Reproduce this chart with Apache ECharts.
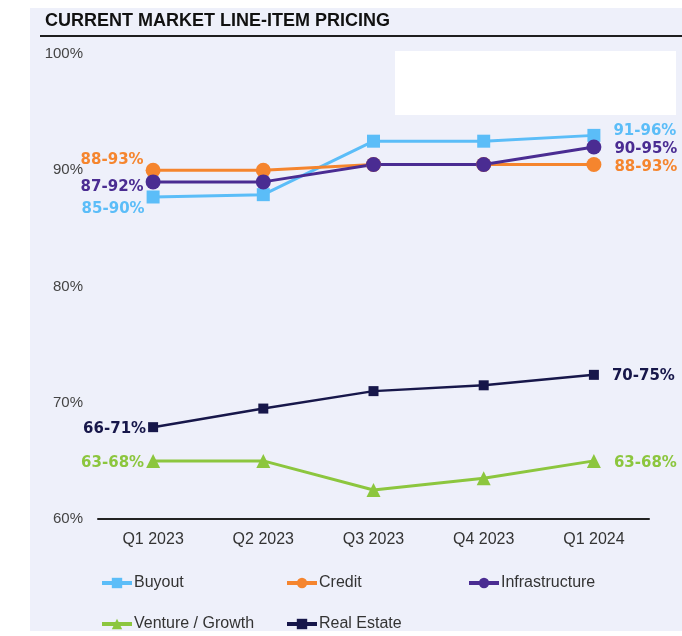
<!DOCTYPE html>
<html>
<head>
<meta charset="utf-8">
<script src="https://cdn.jsdelivr.net/npm/echarts@6/dist/echarts.min.js"></script>
<style>
html,body{margin:0;padding:0;background:#ffffff;}
#chart{width:682px;height:636px;}
</style>
</head>
<body>
<div id="chart"></div>
<script>
const titleText = 'CURRENT MARKET LINE-ITEM PRICING';
const categories = ['Q1 2023', 'Q2 2023', 'Q3 2023', 'Q4 2023', 'Q1 2024'];
const seriesNames = ['Buyout', 'Credit', 'Infrastructure', 'Venture / Growth', 'Real Estate'];
const buyout = [87.7, 87.9, 92.5, 92.5, 93.0];
const credit = [90.0, 90.0, 90.5, 90.5, 90.5];
const infrastructure = [89.0, 89.0, 90.5, 90.5, 92.0];
const ventureGrowth = [65.0, 65.0, 62.5, 63.5, 65.0];
const realEstate = [67.9, 69.5, 71.0, 71.5, 72.4];
const buyoutRanges = ['85-90%', '91-96%'];
const creditRanges = ['88-93%', '88-93%'];
const infrastructureRanges = ['87-92%', '90-95%'];
const ventureRanges = ['63-68%', '63-68%'];
const realEstateRanges = ['66-71%', '70-75%'];
const yTicks = [60, 70, 80, 90, 100];

const colors = {
  buyout: '#5bbdf8',
  credit: '#f5852e',
  infra: '#4a2c92',
  venture: '#8cc63e',
  realEstate: '#17174a'
};
const labelFont = 'DejaVu Sans';

function makeData(values, ranges, color, startDy, endDy) {
  const last = values.length - 1;
  return values.map(function (v, i) {
    if (i === 0) {
      return { value: v, label: { show: true, formatter: ranges[0], position: 'left', distance: 2, offset: [0, startDy], color: color, fontFamily: labelFont, fontWeight: 'bold', fontSize: 15 } };
    }
    if (i === last) {
      return { value: v, label: { show: true, formatter: ranges[1], position: 'right', distance: 13, offset: [0, endDy], color: color, fontFamily: labelFont, fontWeight: 'bold', fontSize: 15 } };
    }
    return { value: v };
  });
}

function lineSeries(name, values, ranges, color, symbol, size, width, startDy, endDy) {
  return {
    name: name,
    type: 'line',
    data: makeData(values, ranges, color, startDy, endDy),
    symbol: symbol,
    symbolSize: size,
    showAllSymbol: true,
    lineStyle: { color: color, width: width },
    itemStyle: { color: color },
    label: { show: false },
    emphasis: { disabled: true },
    animation: false
  };
}

const chart = echarts.init(document.getElementById('chart'), null, { renderer: 'canvas' });

const legendBase = {
  padding: 0,
  itemWidth: 30,
  itemHeight: 13,
  itemGap: 0,
  lineStyle: { width: 4 },
  textStyle: { fontFamily: 'Liberation Sans', fontSize: 16, color: '#333333', padding: [0, 0, 0, -3] },
  selectedMode: false
};

chart.setOption({
  backgroundColor: '#ffffff',
  animation: false,
  graphic: [
    { type: 'rect', z: -10, shape: { x: 30, y: 8, width: 652, height: 623 }, style: { fill: '#eef0fa' }, silent: true },
    { type: 'line', z: 5, shape: { x1: 40, y1: 36, x2: 682, y2: 36 }, style: { stroke: '#1e1e1e', lineWidth: 2 }, silent: true },
    { type: 'rect', z: 5, shape: { x: 395, y: 51, width: 281, height: 64 }, style: { fill: '#ffffff' }, silent: true },
    { type: 'text', z: 5, x: 45, y: 21, style: { text: titleText, font: 'bold 18px "Liberation Sans"', fill: '#111111', textVerticalAlign: 'middle' }, silent: true }
  ],
  grid: { left: 98, right: 33, top: 54, bottom: 117, containLabel: false },
  legend: [
    Object.assign({}, legendBase, { data: [seriesNames[0]], left: 100, top: 575 }),
    Object.assign({}, legendBase, { data: [seriesNames[1]], left: 285, top: 575 }),
    Object.assign({}, legendBase, { data: [seriesNames[2]], left: 467, top: 575 }),
    Object.assign({}, legendBase, { data: [seriesNames[3]], left: 100, top: 616 }),
    Object.assign({}, legendBase, { data: [seriesNames[4]], left: 285, top: 616 })
  ],
  xAxis: {
    type: 'category',
    data: categories,
    boundaryGap: true,
    axisLine: { show: true, lineStyle: { color: '#222222', width: 2 } },
    axisTick: { show: false },
    axisLabel: { color: '#333333', fontFamily: 'Liberation Sans', fontSize: 16, margin: 13 },
    splitLine: { show: false }
  },
  yAxis: {
    type: 'value',
    min: yTicks[0],
    max: yTicks[yTicks.length - 1],
    interval: 10,
    axisLine: { show: false },
    axisTick: { show: false },
    splitLine: { show: false },
    axisLabel: { color: '#444444', fontFamily: 'Liberation Sans', fontSize: 15, margin: 15, formatter: '{value}%' }
  },
  series: [
    lineSeries(seriesNames[0], buyout, buyoutRanges, colors.buyout, 'rect', 13, 3, 12, -4),
    lineSeries(seriesNames[1], credit, creditRanges, colors.credit, 'circle', 15, 3, -10, 3),
    lineSeries(seriesNames[2], infrastructure, infrastructureRanges, colors.infra, 'circle', 15, 3, 5, 2),
    lineSeries(seriesNames[3], ventureGrowth, ventureRanges, colors.venture, 'triangle', 14, 3, 2, 2),
    lineSeries(seriesNames[4], realEstate, realEstateRanges, colors.realEstate, 'rect', 10, 2.5, 2, 1)
  ]
});
</script>
</body>
</html>
